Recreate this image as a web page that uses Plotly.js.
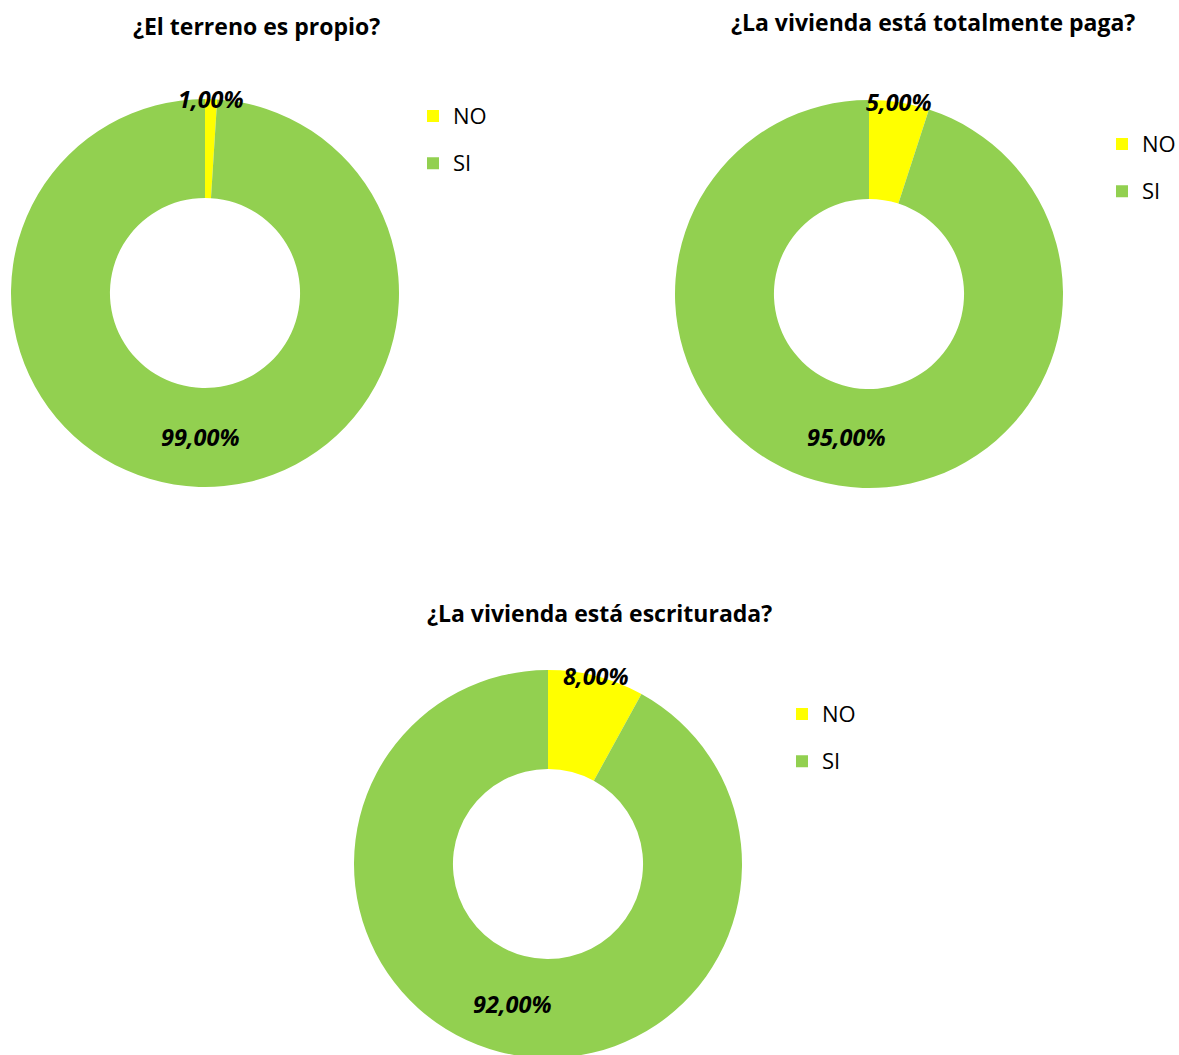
<!DOCTYPE html>
<html>
<head>
<meta charset="utf-8">
<script src="https://cdn.plot.ly/plotly-3.0.1.min.js"></script>
<style>
html,body{margin:0;padding:0;overflow:hidden;background:#fff;}
#chart{width:1179px;height:1060px;}
</style>
</head>
<body>
<div id="chart"></div>
<script>
// ---- data ----
const categories = ['NO', 'SI'];
const terrenoPropio = [1, 99];
const viviendaPaga = [5, 95];
const viviendaEscriturada = [8, 92];
const chartTitles = ['¿El terreno es propio?', '¿La vivienda está totalmente paga?', '¿La vivienda está escriturada?'];
const seriesList = [terrenoPropio, viviendaPaga, viviendaEscriturada];

// ---- layout / style ----
const W = 1179, H = 1060;
const FONT = '"Open Sans", Lato, sans-serif';
const colors = ['#FFFF00', '#92D050'];
const HOLE = 0.49;
const panels = [
  {cx: 205, cy: 293, R: 194, tx: 256, ty: 26, lx: 433, ly: 116},
  {cx: 869, cy: 294, R: 194, tx: 933, ty: 22, lx: 1122, ly: 144},
  {cx: 548, cy: 864, R: 194, tx: 599, ty: 613, lx: 802, ly: 714}
];
const legendNames = ['legend', 'legend2', 'legend3'];

function fmt(v) { return v.toFixed(2).replace('.', ',') + '%'; }

const traces = [];
const annotations = [];
const layout = {
  width: W, height: H,
  margin: {l: 0, r: 0, t: 0, b: 0, autoexpand: false},
  paper_bgcolor: '#ffffff',
  plot_bgcolor: '#ffffff',
  font: {family: FONT, color: '#000000'},
  annotations: annotations
};

seriesList.forEach((vals, i) => {
  const p = panels[i];
  traces.push({
    type: 'pie',
    labels: categories.map(c => '<span style="font-size:22px;baseline-shift:5px">' + c + '</span>'),
    values: vals,
    hole: HOLE,
    sort: false,
    direction: 'clockwise',
    rotation: 0,
    textinfo: 'none',
    hoverinfo: 'label+percent',
    marker: {colors: colors, line: {width: 0}},
    domain: {
      x: [(p.cx - p.R) / W, (p.cx + p.R) / W],
      y: [1 - (p.cy + p.R) / H, 1 - (p.cy - p.R) / H]
    },
    legend: legendNames[i],
    legendgroup: 'group' + i,
    showlegend: true
  });

  layout[legendNames[i]] = {
    x: (p.lx - 20) / W, y: 1 - (p.ly - 28.6) / H,
    xanchor: 'left', yanchor: 'top',
    bgcolor: 'rgba(0,0,0,0)', borderwidth: 0,
    font: {family: FONT, size: 34, color: '#000000'},
    traceorder: 'normal'
  };

  annotations.push({
    xref: 'paper', yref: 'paper',
    x: p.tx / W, y: 1 - p.ty / H,
    xanchor: 'center', yanchor: 'middle',
    showarrow: false,
    text: '<b>' + chartTitles[i] + '</b>',
    font: {family: FONT, size: 23, color: '#000000'}
  });

  // data labels: computed from values, on the pie geometry
  const total = vals.reduce((a, b) => a + b, 0);
  let start = 0;
  vals.forEach((v, k) => {
    const mid = (start + v / 2) / total * 2 * Math.PI;
    start += v;
    const rad = k === 0 ? p.R : p.R * (1 + HOLE) / 2;
    const px = p.cx + rad * Math.sin(mid);
    const py = p.cy - rad * Math.cos(mid);
    annotations.push({
      xref: 'paper', yref: 'paper',
      x: px / W, y: 1 - py / H,
      xanchor: 'center', yanchor: 'middle',
      showarrow: false,
      text: '<b><i>' + fmt(v) + '</i></b>',
      font: {family: FONT, size: 23.5, color: '#000000'}
    });
  });
});

Plotly.newPlot('chart', traces, layout, {displayModeBar: false, staticPlot: true});
</script>
</body>
</html>
